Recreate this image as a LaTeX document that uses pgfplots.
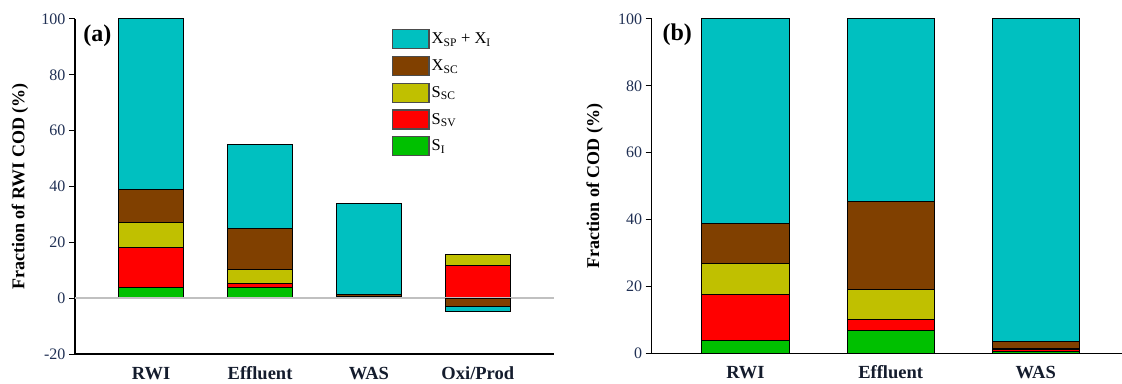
\documentclass[border=0pt]{standalone}
\usepackage{pgfplots}
\usepackage{pgfplotstable}
\pgfplotsset{compat=1.18}
\usepackage{fontspec}
\setmainfont{Liberation Serif}

\definecolor{cXsp}{RGB}{0,192,192}
\definecolor{cXsc}{RGB}{128,64,0}
\definecolor{cSsc}{RGB}{192,192,0}
\definecolor{cSsv}{RGB}{255,0,0}
\definecolor{cSi}{RGB}{0,192,0}
\definecolor{tickblue}{RGB}{32,48,84}
\definecolor{labelnavy}{RGB}{20,28,45}
\definecolor{zerogray}{RGB}{192,192,192}

% Fractions of COD, panel (a): share of the RWI COD, by stream
\pgfplotstableread{
x  SI   SSV   SSC  XSC   XSP
0  4.0  14.0  9.0  12.0  61.0
1  3.9  1.4   5.0  14.7  30.0
2  0.2  0.15  0.2  0.7   32.75
3  0.0  11.6  4.2  0.0   0.0
}\tblA
% negative parts of Oxi/Prod, stacked downwards from zero
\pgfplotstableread{
x  XSC   XSP
3  -2.9  -1.8
}\tblAneg
% panel (b): composition of each stream's own COD
\pgfplotstableread{
x  SI   SSV   SSC  XSC   XSP
0  3.8  13.8  9.3  12.0  61.1
1  6.9  3.1   9.2  26.1  54.7
2  0.6  0.4   0.4  2.0   96.6
}\tblB

\pgfplotsset{
  codbase/.style={
    scale only axis,
    axis x line=bottom, axis y line=left,
    axis line style={-, line width=1.3pt, black},
    ybar stacked, bar width=0.6, bar shift=0pt,
    xtick={0,1,2,3},
    xtick style={draw=none},
    tick align=outside, major tick length=6pt,
    ytick style={line width=1pt, black},
    /pgf/number format/assume math mode=true,
    yticklabel style={font=\fontsize{16}{18}\selectfont, text=tickblue},
    xticklabel style={font=\fontsize{18.5}{20}\selectfont\bfseries, text=labelnavy,
      anchor=base, yshift=-19pt},
    every axis y label/.style={rotate=90, anchor=center,
      font=\fontsize{18}{20}\selectfont\bfseries},
    every axis plot/.append style={draw=black, line width=1pt},
    legend image code/.code={
      \draw[#1, draw=black!70, line width=1.3pt] (0pt,-9.5pt) rectangle (36.5pt,9.5pt);},
  },
  panelA/.style={codbase,
    at={(75pt,29pt)}, anchor=south west,
    width=479pt, height=335pt,
    xmin=-0.7, xmax=3.7, ymin=-20, ymax=100,
  },
  panelB/.style={codbase,
    at={(651.7pt,29.7pt)}, anchor=south west,
    width=470.3pt, height=334.3pt,
    xmin=-0.646, xmax=2.594, ymin=0, ymax=100,
  },
}

\begin{document}
\begin{tikzpicture}
\useasboundingbox (0,0) rectangle (1122pt,383pt);

% ---- (a) ----
\begin{axis}[panelA,
  ytick={-20,0,20,40,60,80,100},
  xticklabels={RWI,Effluent,WAS,Oxi/Prod},
  ylabel={Fraction of RWI COD (\%)},
  ylabel style={at={(axis description cs:-0.115,0.5)}},
  reverse legend,
  legend cell align=left,
  legend style={draw=none, fill=none, at={(0.655,0.977)}, anchor=north west,
    font=\fontsize{16.5}{18}\selectfont, row sep=6.5pt,
    /tikz/every even column/.style={column sep=7pt}},
]
\addplot[fill=cSi]  table[x=x,y=SI]  {\tblA};
\addlegendentry{S\textsubscript{I}}
\addplot[fill=cSsv] table[x=x,y=SSV] {\tblA};
\addlegendentry{S\textsubscript{SV}}
\addplot[fill=cSsc] table[x=x,y=SSC] {\tblA};
\addlegendentry{S\textsubscript{SC}}
\addplot[fill=cXsc] table[x=x,y=XSC] {\tblA};
\addlegendentry{X\textsubscript{SC}}
\addplot[fill=cXsp] table[x=x,y=XSP] {\tblA};
\addlegendentry{X\textsubscript{SP} + X\textsubscript{I}}
\node[font=\fontsize{24}{26}\selectfont\bfseries] at (axis cs:-0.495,94) {(a)};
\end{axis}

\begin{axis}[panelA, hide axis]
\addplot[fill=cXsc] table[x=x,y=XSC] {\tblAneg};
\addplot[fill=cXsp] table[x=x,y=XSP] {\tblAneg};
\draw[zerogray, line width=1.6pt] (axis cs:-0.7,0) -- (axis cs:3.7,0);
\end{axis}

% ---- (b) ----
\begin{axis}[panelB,
  xtick={0,1,2},
  ytick={0,20,40,60,80,100},
  xticklabels={RWI,Effluent,WAS},
  ylabel={Fraction of COD (\%)},
  ylabel style={at={(axis description cs:-0.121,0.5)}},
]
\addplot[fill=cSi]  table[x=x,y=SI]  {\tblB};
\addplot[fill=cSsv] table[x=x,y=SSV] {\tblB};
\addplot[fill=cSsc] table[x=x,y=SSC] {\tblB};
\addplot[fill=cXsc] table[x=x,y=XSC] {\tblB};
\addplot[fill=cXsp] table[x=x,y=XSP] {\tblB};
\node[font=\fontsize{24}{26}\selectfont\bfseries] at (axis cs:-0.47,95.2) {(b)};
\end{axis}
\end{tikzpicture}
\end{document}
